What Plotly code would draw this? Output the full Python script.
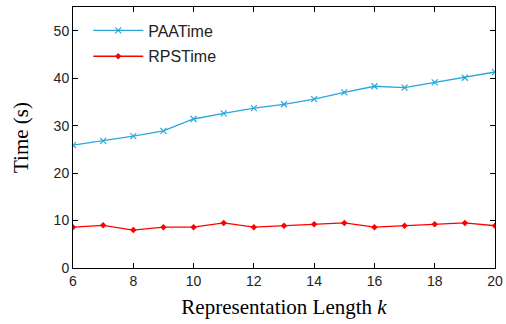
import plotly.graph_objects as go

k_values = [6, 7, 8, 9, 10, 11, 12, 13, 14, 15, 16, 17, 18, 19, 20]
paa_time = [25.9, 26.8, 27.8, 28.9, 31.4, 32.6, 33.7, 34.5, 35.6, 37.0, 38.3, 38.0, 39.1, 40.1, 41.3]
rps_time = [8.6, 9.0, 8.0, 8.6, 8.6, 9.5, 8.6, 8.9, 9.2, 9.5, 8.6, 8.9, 9.2, 9.5, 8.9]
x_ticks = [6, 8, 10, 12, 14, 16, 18, 20]
y_ticks = [0, 10, 20, 30, 40, 50]

fig = go.Figure()
fig.add_trace(go.Scatter(
    x=k_values, y=paa_time, name="PAATime", mode="lines+markers", legendgroup="paa",
    line=dict(color="#2aa8da", width=1.3),
    marker=dict(symbol="x-thin", size=6, line=dict(color="#2aa8da", width=1.2)),
))
fig.add_trace(go.Scatter(
    x=k_values, y=rps_time, name="RPSTime", mode="lines+markers", legendgroup="rps",
    line=dict(color="#ff0000", width=1.3),
    marker=dict(symbol="diamond", size=5, color="#ff0000"),
))

axis_common = dict(
    showline=True, linecolor="black", linewidth=1, mirror="ticks",
    ticks="inside", ticklen=5, tickcolor="black", tickwidth=1,
    showgrid=False, zeroline=False, automargin=False,
    tickfont=dict(family="Liberation Sans, Arial", size=14, color="#222"),
)

fig.update_layout(
    width=506, height=324,
    margin=dict(l=73, r=11, t=7, b=56, autoexpand=False),
    paper_bgcolor="white", plot_bgcolor="white",
    xaxis=dict(range=[6, 20], tickvals=x_ticks,
               title=dict(text="Representation Length <i>k</i>", standoff=11,
                          font=dict(family="Liberation Serif, Times New Roman", size=21, color="black")),
               **axis_common),
    yaxis=dict(range=[0, 55], tickvals=y_ticks,
               title=dict(text="Time (s)", standoff=19,
                          font=dict(family="Liberation Serif, Times New Roman", size=21, color="black")),
               **axis_common),
    legend=dict(x=0.036, y=0.975, xanchor="left", yanchor="top",
                bgcolor="rgba(255,255,255,0)", borderwidth=0,
                font=dict(family="Liberation Sans, Arial", size=16, color="#222"),
                tracegroupgap=2, itemwidth=50),
    showlegend=True,
)

fig.write_html("out.html", config={"displayModeBar": False},
               post_script="document.body.style.margin='0px';")
